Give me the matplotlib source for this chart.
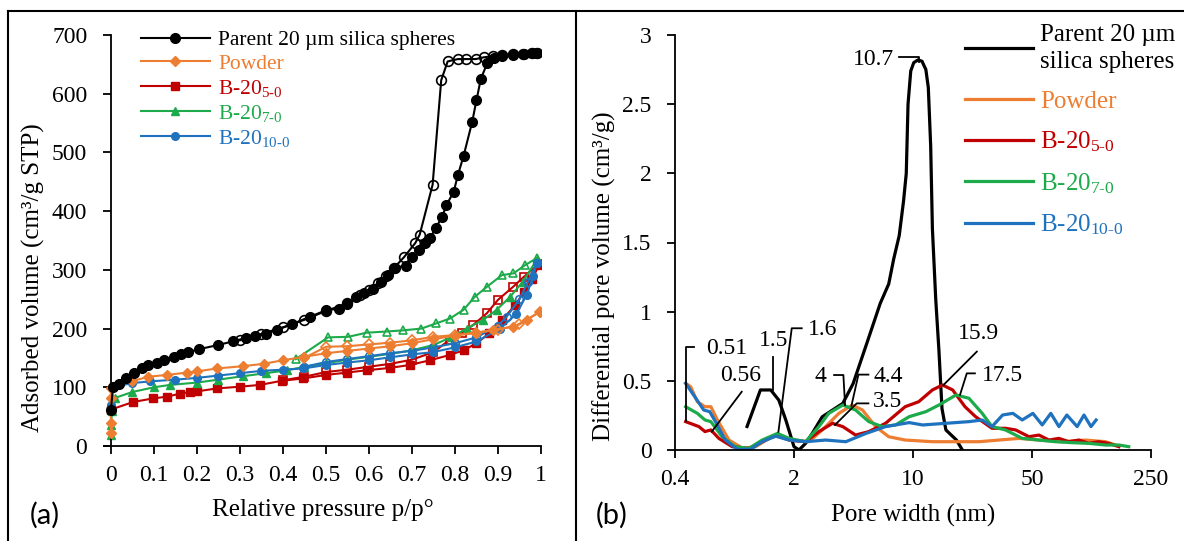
import matplotlib
matplotlib.use("Agg")
import matplotlib.pyplot as plt
from matplotlib.lines import Line2D

plt.rcParams['font.family'] = 'Liberation Serif'
plt.rcParams['mathtext.fontset'] = 'custom'
plt.rcParams['mathtext.rm'] = 'Liberation Serif'
plt.rcParams['mathtext.it'] = 'Liberation Serif:italic'

# --- colours ---
c_par = 'black'
c_pow = '#ED7D31'
c_b5 = '#C00000'
c_b7 = '#1DAA4A'
c_b10 = '#1F72BE'

labels_a = ['Parent 20 \u00b5m silica spheres', 'Powder', r'B-20$_{\text{5-0}}$',
            r'B-20$_{\text{7-0}}$', r'B-20$_{\text{10-0}}$']
labels_b = ['Parent 20 \u00b5m\nsilica spheres', 'Powder', r'B-20$_{\text{5-0}}$',
            r'B-20$_{\text{7-0}}$', r'B-20$_{\text{10-0}}$']

# --- (a) isotherms: adsorption (filled) / desorption (open) ---
p_par_ads = [0.0, 0.005, 0.019, 0.036, 0.053, 0.073, 0.086, 0.107, 0.124, 0.146, 0.163, 0.18,
             0.206, 0.249, 0.283, 0.313, 0.335, 0.36, 0.386, 0.42, 0.462, 0.5, 0.53, 0.549,
             0.571, 0.588, 0.609, 0.627, 0.644, 0.66, 0.687, 0.70, 0.717, 0.73, 0.742, 0.755,
             0.77, 0.78, 0.797, 0.807, 0.82, 0.84, 0.85, 0.86, 0.875, 0.89, 0.91, 0.935, 0.96,
             0.98, 0.99]
v_par_ads = [62, 100, 106, 116, 125, 132, 138, 141, 146, 151, 156, 160, 165, 172, 178, 184, 187,
             191, 198, 207, 220, 231, 234, 241, 253, 260, 267, 280, 292, 304, 307, 322, 333, 345,
             354, 371, 390, 410, 433, 462, 494, 552, 589, 625, 652, 660, 664, 666, 668, 670, 670]
p_par_des = [0.991, 0.979, 0.957, 0.934, 0.91, 0.888, 0.867, 0.848, 0.826, 0.807, 0.783, 0.768,
             0.748, 0.718, 0.708, 0.682, 0.659, 0.64, 0.62, 0.6, 0.58, 0.55, 0.5, 0.45, 0.4,
             0.35, 0.3]
v_par_des = [670, 670, 668, 667, 666, 664, 662, 659, 659, 659, 655, 623, 445, 360, 346, 322, 304,
             290, 277, 265, 257, 243, 230, 215, 202, 191, 180]

p_pow_ads = [0.0, 0.0, 0.0, 0.0, 0.02, 0.048, 0.087, 0.13, 0.176, 0.2, 0.246, 0.308, 0.355, 0.40,
             0.45, 0.50, 0.55, 0.6, 0.65, 0.7, 0.75, 0.8, 0.85, 0.889, 0.936, 0.967, 0.998]
v_pow_ads = [22, 40, 81, 99, 105, 110, 118, 121, 125, 127, 132, 136, 140, 146, 152, 158, 162, 166,
             170, 175, 182, 188, 193, 198, 203, 215, 229]
p_pow_des = [0.998, 0.95, 0.9, 0.85, 0.8, 0.75, 0.7, 0.65, 0.6, 0.55, 0.5, 0.45]
v_pow_des = [229, 207, 198, 193, 189, 186, 180, 176, 173, 170, 169, 150]

p_b5_ads = [0.0, 0.052, 0.098, 0.13, 0.16, 0.184, 0.2, 0.246, 0.30, 0.346, 0.397, 0.447, 0.50,
            0.548, 0.595, 0.649, 0.695, 0.742, 0.788, 0.82, 0.85, 0.88, 0.91, 0.94, 0.96, 0.98,
            0.995]
v_b5_ads = [62, 75, 81, 84, 89, 92, 93, 98, 101, 104, 111, 115, 121, 125, 129, 133, 138, 146,
            155, 163, 175, 192, 215, 240, 262, 285, 308]
p_b5_des = [0.995, 0.96, 0.935, 0.90, 0.874, 0.842, 0.816, 0.788, 0.75, 0.70, 0.65, 0.60, 0.55,
            0.50, 0.45, 0.40]
v_b5_des = [310, 288, 271, 249, 226, 206, 192, 181, 160, 147, 140, 135, 130, 126, 118, 112]

p_b7_ads = [0.0, 0.0, 0.003, 0.01, 0.05, 0.1, 0.137, 0.2, 0.25, 0.308, 0.36, 0.41, 0.45, 0.5,
            0.55, 0.6, 0.65, 0.7, 0.75, 0.79, 0.827, 0.866, 0.897, 0.928, 0.958, 0.99]
v_b7_ads = [18, 35, 60, 82, 92, 100, 104, 108, 113, 119, 124, 129, 135, 141, 147, 152, 157, 163,
            172, 185, 200, 215, 232, 254, 280, 317]
p_b7_des = [0.99, 0.963, 0.936, 0.909, 0.874, 0.846, 0.82, 0.788, 0.757, 0.722, 0.68, 0.641,
            0.595, 0.552, 0.505, 0.43]
v_b7_des = [320, 308, 294, 291, 271, 254, 232, 217, 209, 200, 197, 195, 193, 186, 185, 148]

p_b10_ads = [0.0, 0.005, 0.048, 0.09, 0.15, 0.2, 0.25, 0.3, 0.35, 0.4, 0.447, 0.5, 0.548, 0.6,
             0.649, 0.7, 0.75, 0.8, 0.85, 0.905, 0.943, 0.967, 0.982, 0.99]
v_b10_ads = [70, 100, 107, 110, 113, 116, 120, 124, 128, 130, 132, 138, 142, 146, 151, 156, 160,
             168, 178, 200, 225, 258, 290, 312]
p_b10_des = [0.99, 0.97, 0.95, 0.92, 0.9, 0.85, 0.8, 0.75, 0.7, 0.649, 0.6, 0.548, 0.5, 0.45]
v_b10_des = [312, 280, 250, 220, 205, 185, 175, 168, 162, 158, 153, 148, 143, 135]

# --- (b) pore size distributions ---
w_par = [1.06, 1.27, 1.46, 1.63, 1.79, 2.0, 2.14, 2.34, 2.56, 2.93, 3.37, 3.87, 4.45, 5.35, 6.42,
         7.2, 7.7, 8.3, 8.8, 9.13, 9.35, 9.7, 10.1, 10.7, 11.3, 11.9, 12.3, 12.7, 13.0, 13.6,
         14.2, 14.8, 15.6, 18.0, 19.5]
d_par = [0.17, 0.434, 0.434, 0.36, 0.217, 0.024, 0.0, 0.048, 0.12, 0.24, 0.289, 0.337, 0.48,
         0.77, 1.06, 1.2, 1.38, 1.55, 1.8, 2.0, 2.5, 2.74, 2.8, 2.82, 2.81, 2.75, 2.62, 2.2, 1.6,
         1.09, 0.72, 0.3, 0.145, 0.072, 0.0]

w_pow = [0.462, 0.494, 0.541, 0.60, 0.65, 0.71, 0.83, 1.0, 1.19, 1.43, 1.63, 1.95, 2.45, 2.93,
         3.67, 4.4, 5.05, 6.03, 7.2, 9.0, 13.0, 17.9, 24.4, 32.0, 42.0, 54.9, 75.2, 103, 135, 155]
d_pow = [0.482, 0.458, 0.349, 0.313, 0.313, 0.217, 0.072, 0.012, 0.024, 0.084, 0.108, 0.072,
         0.06, 0.145, 0.265, 0.325, 0.289, 0.169, 0.096, 0.072, 0.06, 0.06, 0.06, 0.072, 0.084,
         0.072, 0.06, 0.072, 0.06, 0.036]

w_b5 = [0.462, 0.553, 0.60, 0.65, 0.724, 0.867, 1.09, 1.30, 1.56, 1.87, 2.34, 2.80, 3.37, 3.87,
        4.6, 5.5, 6.9, 9.0, 10.8, 13.0, 14.9, 17.1, 20.2, 23.3, 29.1, 34.9, 40.1, 48.0, 54.9,
        62.9, 71.9, 82.3, 94.3, 108, 123, 141, 162]
d_b5 = [0.205, 0.169, 0.133, 0.145, 0.084, 0.024, 0.012, 0.06, 0.108, 0.072, 0.06, 0.133, 0.193,
        0.169, 0.108, 0.133, 0.193, 0.313, 0.349, 0.434, 0.47, 0.434, 0.313, 0.241, 0.157, 0.157,
        0.145, 0.096, 0.108, 0.072, 0.084, 0.06, 0.072, 0.048, 0.06, 0.048, 0.024]

w_b7 = [0.462, 0.541, 0.60, 0.65, 0.756, 0.90, 1.09, 1.30, 1.60, 1.87, 2.34, 2.80, 3.2, 3.87,
        4.6, 5.5, 6.6, 7.9, 9.5, 11.9, 14.2, 17.9, 21.3, 25.5, 29.1, 34.9, 43.8, 54.9, 68.7,
        86.1, 108, 135, 162, 185]
d_b7 = [0.313, 0.265, 0.217, 0.205, 0.096, 0.024, 0.012, 0.072, 0.12, 0.084, 0.06, 0.169, 0.265,
        0.325, 0.289, 0.205, 0.169, 0.181, 0.241, 0.277, 0.325, 0.398, 0.374, 0.265, 0.169,
        0.145, 0.084, 0.072, 0.06, 0.053, 0.048, 0.036, 0.036, 0.024]

w_b10 = [0.462, 0.53, 0.59, 0.64, 0.70, 0.79, 0.93, 1.11, 1.30, 1.56, 1.87, 2.34, 3.07, 4.03,
         5.3, 6.9, 9.5, 11.4, 15.6, 21.3, 25.5, 29.1, 33.6, 38.6, 43.8, 50.6, 57.4, 64.5, 72.0,
         80.1, 92.1, 101, 111, 119]
d_b10 = [0.482, 0.374, 0.289, 0.277, 0.193, 0.072, 0.005, 0.005, 0.06, 0.1, 0.072, 0.06, 0.072,
         0.06, 0.12, 0.169, 0.198, 0.181, 0.193, 0.205, 0.217, 0.169, 0.253, 0.265, 0.217, 0.265,
         0.181, 0.265, 0.169, 0.253, 0.169, 0.253, 0.169, 0.217]

# peak labels: text, text position, alignment, leader line
peak_labels = [
    ('10.7', 7.69, 2.826, 'right', [8.31, 10.79, 10.79], [2.838, 2.838, 2.806]),
    ('0.51', 0.607, 0.735, 'left', [0.517, 0.462, 0.462], [0.747, 0.747, 0.21]),
    ('0.56', 0.97, 0.542, 'center', [0.986, 0.657], [0.421, 0.132]),
    ('1.5', 1.51, 0.795, 'center', [1.51, 1.51], [0.672, 0.434]),
    ('1.6', 2.42, 0.868, 'left', [2.22, 1.94, 1.62], [0.88, 0.88, 0.132]),
    ('4', 3.11, 0.53, 'right', [3.44, 3.9, 3.99], [0.542, 0.542, 0.325]),
    ('4.4', 5.85, 0.53, 'left', [5.47, 4.78, 4.35], [0.545, 0.545, 0.32]),
    ('3.5', 5.85, 0.349, 'left', [5.47, 4.67, 3.48], [0.337, 0.337, 0.181]),
    ('15.9', 24.2, 0.843, 'center', [23.7, 15.1], [0.711, 0.47]),
    ('17.5', 25.4, 0.542, 'left', [23.1, 20.7, 18.9], [0.554, 0.554, 0.40]),
]

fig = plt.figure(figsize=(11.84, 5.41), dpi=100)

# ---------------- (a) ----------------
ax1 = fig.add_axes([104 / 1184, 1 - 446 / 541, 437 / 1184, 411 / 541])
series_a = [
    (p_pow_ads, v_pow_ads, p_pow_des, v_pow_des, c_pow, 'D', 5.5, 3),
    (p_b5_ads, v_b5_ads, p_b5_des, v_b5_des, c_b5, 's', 5.5, 2),
    (p_b7_ads, v_b7_ads, p_b7_des, v_b7_des, c_b7, '^', 6, 2),
    (p_b10_ads, v_b10_ads, p_b10_des, v_b10_des, c_b10, 'o', 5.5, 2),
    (p_par_ads, v_par_ads, p_par_des, v_par_des, c_par, 'o', 7, 4),
]
handles = {}
for pa, va, pd, vd, col, mk, ms, z in series_a:
    h, = ax1.plot(pa, va, color=col, marker=mk, ms=ms, lw=1.5, zorder=z)
    ax1.plot(pd, vd, color=col, marker=mk, ms=ms, mfc='none', mew=1.2, lw=1.5, zorder=z)
    handles[col] = h

ax1.set_xlim(-0.016, 1.0)
ax1.set_ylim(0, 700)
ax1.spines['left'].set_position(('data', 0))
ax1.spines['top'].set_visible(False)
ax1.spines['right'].set_visible(False)
for s in ['left', 'bottom']:
    ax1.spines[s].set_linewidth(1.3)
ax1.set_xticks([i / 10 for i in range(11)])
ax1.set_xticklabels(['0'] + ['0.%d' % i for i in range(1, 10)] + ['1'])
ax1.set_yticks(range(0, 701, 100))
ax1.tick_params(axis='both', direction='out', length=6, width=1.3, labelsize=17)
ax1.tick_params(axis='y', pad=11)
ax1.tick_params(axis='x', pad=8)
ax1.set_xlabel('Relative pressure p/p\u00b0', fontsize=18, va='center')
ax1.xaxis.set_label_coords(0.5, -0.156)
ax1.set_ylabel('Adsorbed volume (cm\u00b3/g STP)', fontsize=18, va='center')
ax1.yaxis.set_label_coords(-0.162, 0.409)

ax1.legend([handles[c] for c in [c_par, c_pow, c_b5, c_b7, c_b10]], labels_a,
           loc='upper left', bbox_to_anchor=(141 / 1184, 1 - 30 / 541),
           bbox_transform=fig.transFigure, frameon=False, fontsize=15.5, labelcolor='linecolor',
           handlelength=3.2, handletextpad=0.4, labelspacing=0.18, borderpad=0,
           borderaxespad=0, numpoints=1)

# ---------------- (b) ----------------
ax2 = fig.add_axes([675 / 1184, 1 - 450 / 541, 476 / 1184, 415 / 541])
lines_b = []
for w, d, col in [(w_par, d_par, c_par), (w_pow, d_pow, c_pow), (w_b5, d_b5, c_b5),
                  (w_b7, d_b7, c_b7), (w_b10, d_b10, c_b10)]:
    ln, = ax2.plot(w, d, color=col, lw=2.3)
    lines_b.append(ln)

ax2.set_xscale('log')
ax2.set_xlim(0.4, 250)
ax2.set_ylim(0, 3)
ax2.set_xticks([0.4, 2, 10, 50, 250])
ax2.set_xticklabels(['0.4', '2', '10', '50', '250'])
ax2.xaxis.set_minor_locator(matplotlib.ticker.NullLocator())
ax2.set_yticks([0, 0.5, 1, 1.5, 2, 2.5, 3])
ax2.set_yticklabels(['0', '0.5', '1', '1.5', '2', '2.5', '3'])
ax2.spines['top'].set_visible(False)
ax2.spines['right'].set_visible(False)
for s in ['left', 'bottom']:
    ax2.spines[s].set_linewidth(1.3)
ax2.tick_params(axis='both', direction='out', length=6, width=1.3, labelsize=17)
ax2.tick_params(axis='y', pad=11)
ax2.tick_params(axis='x', pad=8)
ax2.set_xlabel('Pore width (nm)', fontsize=18, va='center')
ax2.xaxis.set_label_coords(0.5, -0.157)
ax2.set_ylabel('Differential pore volume (cm\u00b3/g)', fontsize=18, va='center')
ax2.yaxis.set_label_coords(-0.149, 0.419)

for txt, tx, ty, ha, lx, ly in peak_labels:
    ax2.plot(lx, ly, color='black', lw=1.3, zorder=5)
    ax2.text(tx, ty, txt, ha=ha, va='center', fontsize=17)

leg_b = ax2.legend(lines_b, labels_b, loc='upper left', bbox_to_anchor=(965 / 1184, 1 - 24 / 541),
                   bbox_transform=fig.transFigure, frameon=False, fontsize=18,
                   labelcolor='linecolor', handlelength=2.7, handletextpad=0.3,
                   labelspacing=0.68, borderpad=0, borderaxespad=0)
for t in leg_b.get_texts():
    t.set_linespacing(1.3)

# panel letters and frame
fig.text(45 / 1184, 1 - 515 / 541, '(a)', family='Lato', fontsize=21, ha='center', va='center')
fig.text(612 / 1184, 1 - 515 / 541, '(b)', family='Lato', fontsize=21, ha='center', va='center')
fig.add_artist(Line2D([8 / 1184, 1], [1 - 11 / 541] * 2, color='black', lw=1.5))
fig.add_artist(Line2D([8 / 1184] * 2, [0, 1 - 11 / 541], color='black', lw=1.5))
fig.add_artist(Line2D([576 / 1184] * 2, [0, 1 - 11 / 541], color='black', lw=1.5))

fig.savefig('out.png', dpi=100)
